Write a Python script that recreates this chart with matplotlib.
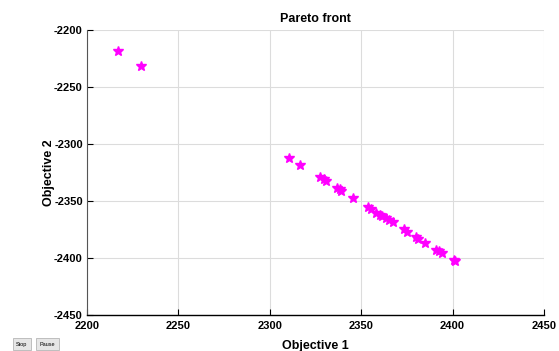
import matplotlib
matplotlib.use("Agg")
import matplotlib.pyplot as plt

plt.rcParams['font.family'] = ['Liberation Sans', 'DejaVu Sans']
plt.rcParams['axes.unicode_minus'] = False

# Pareto front points
obj1 = [2216.8, 2229.7, 2310.5, 2316.8, 2327.7, 2329.5, 2331.0, 2336.8, 2338.2,
        2339.2, 2345.7, 2353.9, 2355.2, 2358.3, 2360.1, 2361.6, 2363.4, 2365.2,
        2367.4, 2373.2, 2375.2, 2380.1, 2381.2, 2385.0, 2390.9, 2392.6, 2394.1,
        2400.8, 2401.6]
obj2 = [-2218.4, -2231.8, -2312.0, -2318.0, -2329.2, -2331.0, -2332.7, -2338.3, -2339.6,
        -2341.2, -2347.6, -2355.5, -2356.8, -2360.2, -2362.3, -2363.6, -2365.2, -2366.8,
        -2368.7, -2374.8, -2377.2, -2381.8, -2383.0, -2386.8, -2392.7, -2394.3, -2395.9,
        -2402.0, -2403.0]

xticks = [2200, 2250, 2300, 2350, 2400, 2450]
yticks = [-2450, -2400, -2350, -2300, -2250, -2200]

fig = plt.figure(figsize=(5.59, 3.51), dpi=100)
ax = fig.add_axes([0.1556, 0.1026, 0.8175, 0.812])

ax.plot(obj1, obj2, linestyle='none', marker='*', markersize=7.5,
        color='#FF00FF', markeredgecolor='#FF00FF')

ax.set_xlim(2200, 2450)
ax.set_ylim(-2450, -2200)
ax.set_xticks(xticks)
ax.set_yticks(yticks)
ax.grid(True, color='#dcdcdc', linewidth=0.8)
ax.set_axisbelow(True)

for s in ['top', 'right']:
    ax.spines[s].set_visible(False)
ax.spines['bottom'].set_linewidth(1.0)
ax.spines['left'].set_color('#555555')
ax.spines['left'].set_linewidth(0.8)
ax.tick_params(direction='in', length=4, width=0.8, labelsize=8)
ax.tick_params(axis='x', pad=4)
ax.tick_params(axis='y', pad=3)
for lab in ax.get_xticklabels() + ax.get_yticklabels():
    lab.set_fontweight('bold')

ax.set_title('Pareto front', fontsize=9, fontweight='bold', pad=6)
ax.set_xlabel('Objective 1', fontsize=9, fontweight='bold', labelpad=7)
ax.set_ylabel('Objective 2', fontsize=9, fontweight='bold', labelpad=-1)

# the little GUI buttons in the corner
fig.text(0.0385, 0.012, 'Stop', fontsize=4, ha='center', va='bottom',
         bbox=dict(boxstyle='square,pad=0.6', facecolor='#e6e6e6', edgecolor='#aaaaaa', linewidth=0.5))
fig.text(0.085, 0.012, 'Pause', fontsize=4, ha='center', va='bottom',
         bbox=dict(boxstyle='square,pad=0.6', facecolor='#e6e6e6', edgecolor='#aaaaaa', linewidth=0.5))

fig.savefig('out.png', dpi=100)
